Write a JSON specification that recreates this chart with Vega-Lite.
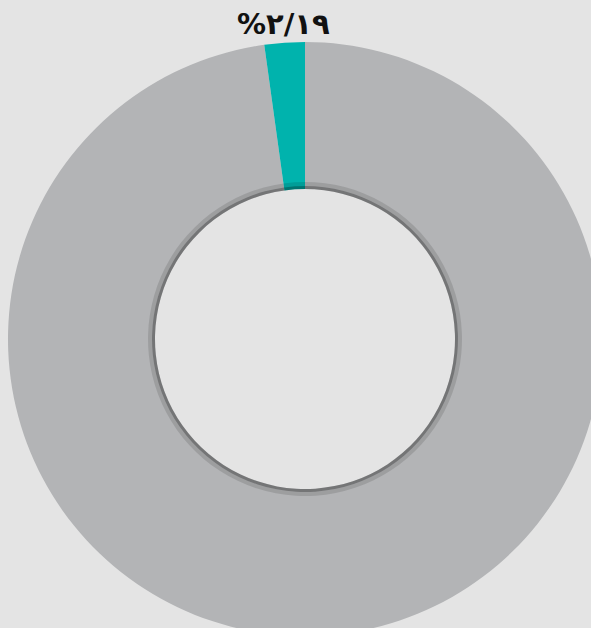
{
  "$schema": "https://vega.github.io/schema/vega-lite/v6.json",
  "width": 610,
  "height": 678,
  "autosize": "none",
  "padding": 0,
  "background": "#e4e4e4",
  "view": {"stroke": null},
  "datasets": {
    "slices": [
      {"category": "other", "order": 1, "value": 97.81, "label": ""},
      {"category": "share", "order": 2, "value": 2.19, "label": "%۲/۱۹"}
    ]
  },
  "data": {"name": "slices"},
  "layer": [
    {
      "mark": {"type": "arc", "innerRadius": 150, "outerRadius": 297, "stroke": null},
      "encoding": {
        "theta": {"field": "value", "type": "quantitative", "stack": true},
        "order": {"field": "order", "type": "quantitative"},
        "color": {
          "field": "category",
          "type": "nominal",
          "scale": {"domain": ["other", "share"], "range": ["#b3b4b6", "#00b3ad"]},
          "legend": null
        }
      }
    },
    {
      "mark": {"type": "arc", "innerRadius": 150, "outerRadius": 153, "color": "#000000", "opacity": 0.35, "stroke": null},
      "encoding": {
        "theta": {"field": "value", "type": "quantitative", "stack": true},
        "order": {"field": "order", "type": "quantitative"}
      }
    },
    {
      "mark": {"type": "arc", "innerRadius": 153, "outerRadius": 157, "color": "#000000", "opacity": 0.12, "stroke": null},
      "encoding": {
        "theta": {"field": "value", "type": "quantitative", "stack": true},
        "order": {"field": "order", "type": "quantitative"}
      }
    },
    {
      "mark": {"type": "text", "radius": 315, "font": "DejaVu Sans", "fontWeight": "bold", "fontSize": 29, "color": "#111111", "align": "center", "baseline": "middle"},
      "encoding": {
        "theta": {"field": "value", "type": "quantitative", "stack": true},
        "order": {"field": "order", "type": "quantitative"},
        "text": {"field": "label", "type": "nominal"}
      }
    }
  ]
}
